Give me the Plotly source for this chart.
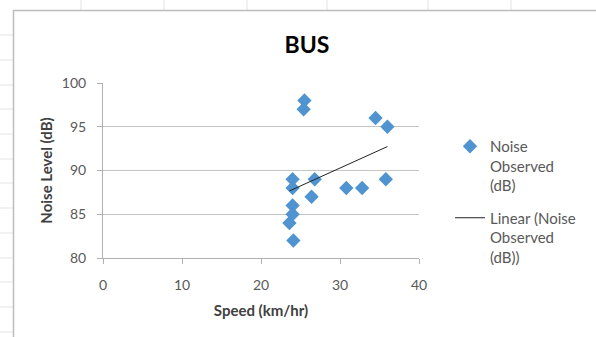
import numpy as np
import plotly.graph_objects as go

# Data
speed_kmh = [25.5, 25.4, 34.5, 36.0, 24.0, 26.8, 35.8, 24.0, 30.8, 32.8, 26.4, 24.0, 24.0, 23.6, 24.1]
noise_db = [98, 97, 96, 95, 89, 89, 89, 88, 88, 88, 87, 86, 85, 84, 82]
x_ticks = [0, 10, 20, 30, 40]
y_ticks = [80, 85, 90, 95, 100]

W, H = 596, 337
L, R, T, B = 103, 177, 83, 79
PW, PH = W - L - R, H - T - B

def px_x(p):
    return (p - L) / PW

def px_y(p):
    return (H - B - p) / PH

# Linear trendline (least squares) from the data
coef = np.polyfit(speed_kmh, noise_db, 1)
xt = np.array([min(speed_kmh), max(speed_kmh)])
yt = np.polyval(coef, xt)

FONT = "Lato"
blue = "#4f93d1"

fig = go.Figure()
fig.add_trace(go.Scatter(
    x=speed_kmh, y=noise_db, mode="markers",
    name="Noise<br>Observed<br>(dB)", legendgroup="a",
    marker=dict(symbol="diamond", size=11, color=blue),
))
fig.add_trace(go.Scatter(
    x=xt, y=yt, mode="lines",
    name="Linear (Noise<br>Observed<br>(dB))", legendgroup="b",
    line=dict(color="#222222", width=1),
))

shapes = []
grid_c = "#e3e3e3"
# spreadsheet cell grid visible around the chart
for cx in [81, 164, 247, 327, 428, 511]:
    shapes.append(dict(type="line", xref="paper", yref="paper",
                       x0=px_x(cx), x1=px_x(cx), y0=px_y(0), y1=px_y(10),
                       line=dict(color=grid_c, width=1)))
for ry in [35, 60, 85, 109, 134, 159, 183, 208, 233, 258, 282, 307, 332]:
    shapes.append(dict(type="line", xref="paper", yref="paper",
                       x0=px_x(0), x1=px_x(13), y0=px_y(ry), y1=px_y(ry),
                       line=dict(color=grid_c, width=1)))
# chart area border
shapes.append(dict(type="line", xref="paper", yref="paper",
                   x0=px_x(13), x1=px_x(W), y0=px_y(10.5), y1=px_y(10.5),
                   line=dict(color="#bdbdbd", width=1.5)))
shapes.append(dict(type="line", xref="paper", yref="paper",
                   x0=px_x(13.5), x1=px_x(13.5), y0=px_y(10), y1=px_y(H),
                   line=dict(color="#bdbdbd", width=1.5)))

fig.update_layout(
    width=W, height=H,
    margin=dict(l=L, r=R, t=T, b=B, pad=0),
    paper_bgcolor="white", plot_bgcolor="white",
    font=dict(family=FONT, color="#595959", size=14),
    title=dict(text="<b>BUS</b>", xref="container", x=307 / W, xanchor="center",
               yref="container", y=1 - 45 / H, yanchor="middle",
               font=dict(family=FONT, size=23, color="#000000")),
    showlegend=True,
    legend=dict(x=px_x(450), xanchor="left", y=px_y(130), yanchor="top",
                valign="top", tracegroupgap=10,
                font=dict(family=FONT, size=15, color="#595959"),
                bgcolor="rgba(0,0,0,0)"),
    shapes=shapes,
    xaxis=dict(range=[0, 40], tickvals=x_ticks, ticktext=[str(v) for v in x_ticks],
               showgrid=False, zeroline=False, showline=True,
               linecolor="#b0b0b0", linewidth=1,
               ticks="outside", ticklen=5, tickcolor="#b0b0b0",
               ticklabelstandoff=9,
               title=dict(text="<b>Speed (km/hr)</b>", standoff=13,
                          font=dict(family=FONT, size=15, color="#404040"))),
    yaxis=dict(range=[80, 100], tickvals=y_ticks, ticktext=[str(v) for v in y_ticks],
               showgrid=True, gridcolor="#c4c4c4", gridwidth=1,
               zeroline=False, showline=True,
               linecolor="#b0b0b0", linewidth=1,
               ticks="outside", ticklen=5, tickcolor="#b0b0b0",
               ticklabelstandoff=8,
               title=dict(text="<b>Noise Level (dB)</b>", standoff=5,
                          font=dict(family=FONT, size=15, color="#404040"))),
)

fig.write_html("out.html")
